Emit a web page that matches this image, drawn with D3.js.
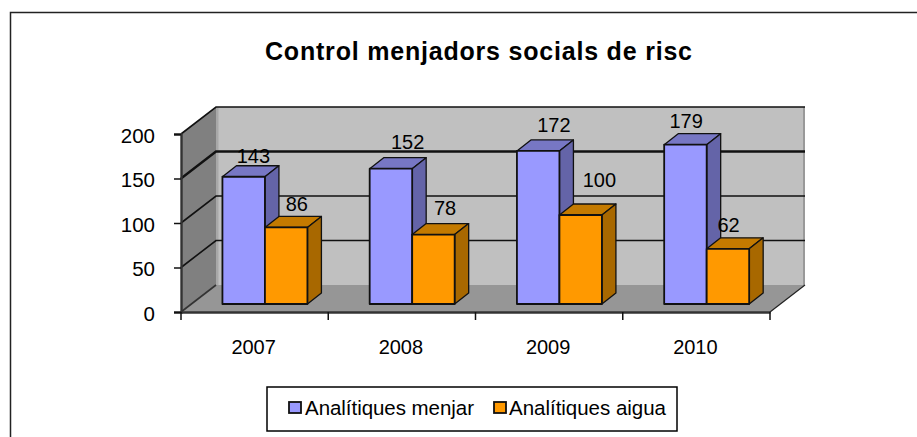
<!DOCTYPE html>
<html><head><meta charset="utf-8">
<script src="https://cdn.jsdelivr.net/npm/d3@7/dist/d3.min.js"></script>
<style>html,body{margin:0;padding:0;background:#fff}svg{display:block}text{font-family:"Liberation Sans",Arial,sans-serif;fill:#000}</style>
</head><body><svg id="c" width="917" height="437"></svg>
<script>
const titleText = "Control menjadors socials de risc";
const years = ["2007","2008","2009","2010"];
const seriesNames = ["Analítiques menjar","Analítiques aigua"];
const menjar = [143,152,172,179];
const aigua = [86,78,100,62];
const yTicks = [0,50,100,150,200];
const seriesValues = [menjar, aigua];
const seriesFill = ["#9999ff","#ff9900"];
const seriesTop = ["#7777c4","#c47a00"];
const seriesSide = ["#6464a8","#a86800"];
// hand-placed data label nudges of the source chart [dx, dy], per series then year
const labelNudge = [[[4,2],[11,-4],[10,-3],[-5,-1]],[[5,0],[6,-4],[13,-12],[-5,-1]]];

const svg = d3.select("#c");
const X0=181,X1=770,Y0=312,Y1=134,DX=35,DY=-27;
const BX=10,BY=-8,BDX=14,BDY=-11;
const x = d3.scaleBand().domain(years).range([X0,X1]).paddingInner(0.4228).paddingOuter(0.2114);
const xs = d3.scaleBand().domain(d3.range(seriesNames.length)).range([0,x.bandwidth()]);
const y = d3.scaleLinear().domain([0,200]).range([Y0,Y1]);
const pts = a=>a.map(p=>p.join(",")).join(" ");

// frame
svg.append("path").attr("d","M10.5,437V12.5H917").attr("fill","none").attr("stroke","#222").attr("stroke-width",1.5);

// walls
svg.append("polygon").attr("points",pts([[X0+DX,Y1+DY],[X1+DX,Y1+DY],[X1+DX,Y0+DY],[X0+DX,Y0+DY]])).attr("fill","#c0c0c0");
svg.append("path").attr("d",`M${X0+DX+1},${Y0+DY}V${Y1+DY}`).attr("stroke","#a8a8a8").attr("stroke-width",3);
svg.append("path").attr("d",`M${X1+DX-1},${Y0+DY}V${Y1+DY}`).attr("stroke","#999").attr("stroke-width",2);
svg.append("polygon").attr("points",pts([[X0,Y1],[X0+DX,Y1+DY],[X0+DX,Y0+DY],[X0,Y0]])).attr("fill","#808080");
svg.append("polygon").attr("points",pts([[X0,Y0],[X1,Y0],[X1+DX,Y0+DY],[X0+DX,Y0+DY]])).attr("fill","#969696");

// gridlines
yTicks.forEach(t=>{
  const yy=y(t);
  const g=svg.append("g").attr("fill","none").attr("stroke",t===0?"#333":"#111").attr("stroke-width",t===150?2.4:1.6);
  g.append("path").attr("d",`M${X0},${yy}L${X0+DX},${yy+DY}H${t===0?X0+DX:X1+DX}`);
});
svg.append("path").attr("d",`M${X1},${Y0}L${X1+DX},${Y0+DY}`).attr("stroke","#222").attr("stroke-width",1.2);

// axes
const axisY = svg.append("g").attr("transform",`translate(${X0},0)`)
  .call(d3.axisLeft(y).tickValues(yTicks).tickSize(7).tickPadding(10).tickFormat(d3.format("d")));
axisY.selectAll("text").attr("font-size",20.5).attr("dy","0.36em");
axisY.select(".domain").attr("stroke","#333").attr("stroke-width",2.4);
axisY.selectAll(".tick line").attr("stroke","#111").attr("stroke-width",1.5);
axisY.selectAll(".tick text").attr("transform","translate(-9,1)");

const axisX = svg.append("g").attr("transform",`translate(0,${Y0})`)
  .call(d3.axisBottom(x).tickSize(0).tickPadding(28));
axisX.selectAll("text").attr("font-size",20).attr("dx",-1);
axisX.select(".domain").attr("stroke","#333").attr("stroke-width",2.6);
const edges = years.map(d=>x(d)-x.step()*x.paddingOuter()).concat([X1]);
axisX.selectAll("line.edge").data(edges).enter().append("line").attr("class","edge")
  .attr("x1",d=>d).attr("x2",d=>d).attr("y1",0).attr("y2",8).attr("stroke","#111").attr("stroke-width",1.5);

// bars
years.forEach((yr,i)=>{
  seriesValues.forEach((vals,s)=>{
    const l=x(yr)+xs(s)+BX+0.3, r=l+xs.bandwidth(), t=y(vals[i])+BY, b=Y0+BY;
    const g=svg.append("g").attr("stroke","#111").attr("stroke-width",1.3).attr("stroke-linejoin","round");
    g.append("polygon").attr("points",pts([[l,t],[l+BDX,t+BDY],[r+BDX,t+BDY],[r,t]])).attr("fill",seriesTop[s]);
    g.append("polygon").attr("points",pts([[r,t],[r+BDX,t+BDY],[r+BDX,b+BDY],[r,b]])).attr("fill",seriesSide[s]);
    g.append("rect").attr("x",l).attr("y",t).attr("width",r-l).attr("height",b-t).attr("fill",seriesFill[s]).attr("stroke-width",1.8);
  });
});
// data labels
years.forEach((yr,i)=>{
  seriesValues.forEach((vals,s)=>{
    const n=labelNudge[s][i];
    svg.append("text").attr("text-anchor","middle").attr("font-size",20)
      .attr("x",x(yr)+xs(s)+xs.bandwidth()/2+BX+n[0]+6)
      .attr("y",y(vals[i])+BY+BDY-5+n[1])
      .text(vals[i]);
  });
});

// title
svg.append("text").attr("x",265).attr("y",60).attr("font-size",25).attr("font-weight","bold")
  .attr("textLength",427).attr("lengthAdjust","spacing").text(titleText);

// legend
svg.append("rect").attr("x",267).attr("y",387).attr("width",410).attr("height",44)
  .attr("fill","#fff").attr("stroke","#000").attr("stroke-width",1.5);
const legend=[{sx:289,tx:305,tl:169},{sx:494,tx:509,tl:157}];
seriesNames.forEach((nm,s)=>{
  svg.append("rect").attr("x",legend[s].sx).attr("y",402).attr("width",12).attr("height",11)
    .attr("fill",seriesFill[s]).attr("stroke","#111").attr("stroke-width",1.8);
  svg.append("text").attr("x",legend[s].tx).attr("y",415).attr("font-size",20.5)
    .attr("textLength",legend[s].tl).attr("lengthAdjust","spacing").text(nm);
});
</script></body></html>
